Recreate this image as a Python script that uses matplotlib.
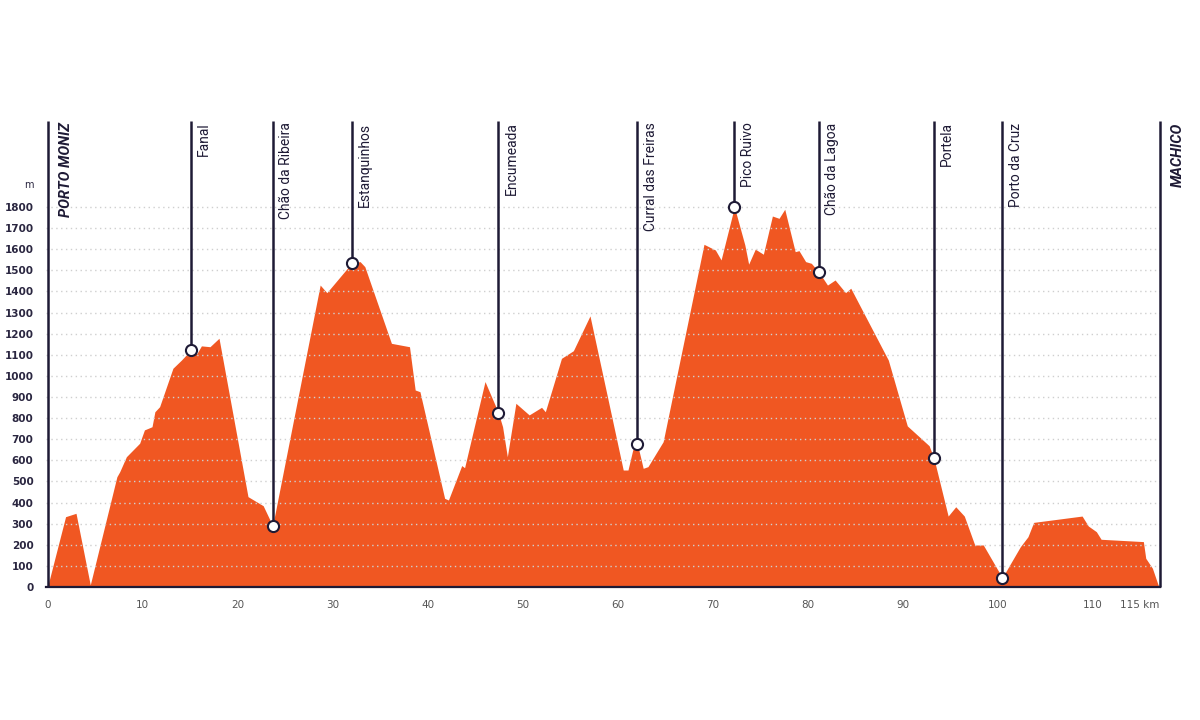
import matplotlib
matplotlib.use("Agg")
import matplotlib.pyplot as plt

# perfil de altitude (km, m)
km = [0.0, 1.9, 3.0, 4.5, 7.3, 7.6, 8.3, 9.7, 10.2, 11.0, 11.3, 11.8, 13.2, 14.1,
      15.1, 15.7, 16.2, 17.1, 18.05, 21.1, 22.7, 23.7, 28.7, 29.4, 32.0, 32.9,
      33.4, 36.2, 38.1, 38.7, 39.2, 41.8, 42.2, 43.6, 43.9, 46.05, 47.45, 47.9,
      48.4, 49.3, 50.7, 52.0, 52.4, 54.1, 55.35, 57.1, 60.6, 61.1, 61.6, 62.1,
      62.7, 63.2, 64.8, 69.1, 70.3, 70.9, 72.3, 73.4, 73.8, 74.5, 75.35, 76.3,
      77.0, 77.6, 78.7, 79.1, 79.8, 80.4, 81.2, 82.1, 82.9, 84.0, 84.55, 88.5,
      90.5, 92.8, 93.3, 94.8, 95.6, 96.5, 97.6, 98.5, 100.5, 102.4, 103.2, 103.8,
      108.9, 109.55, 110.4, 110.9, 115.35, 115.6, 116.3, 116.9, 117.1]
alt = [0, 333, 349, 10, 522, 546, 617, 681, 744, 759, 830, 854, 1036, 1075,
       1123, 1104, 1142, 1138, 1178, 428, 385, 290, 1430, 1394, 1533, 1541,
       1517, 1154, 1138, 933, 925, 420, 412, 575, 565, 973, 826, 759,
       617, 870, 815, 851, 830, 1083, 1119, 1284, 554, 554, 649, 676,
       562, 570, 688, 1623, 1596, 1549, 1800, 1620, 1529, 1600, 1576, 1757,
       1746, 1789, 1588, 1593, 1541, 1533, 1491, 1430, 1454, 1394, 1415, 1075,
       763, 669, 610, 336, 380, 336, 199, 199, 44, 191, 238, 306,
       336, 289, 262, 226, 215, 136, 89, 10, 0]

# pontos de passagem
locais = ["Fanal", "Chão da Ribeira", "Estanquinhos", "Encumeada", "Curral das Freiras",
          "Pico Ruivo", "Chão da Lagoa", "Portela", "Porto da Cruz"]
locais_km = [15.1, 23.7, 32.0, 47.45, 62.1, 72.3, 81.2, 93.3, 100.5]
locais_alt = [1123, 290, 1533, 826, 676, 1800, 1491, 610, 44]

partida = "PORTO MONIZ"
chegada = "MACHICO"
partida_km = 0.0
chegada_km = 117.1

yticks = list(range(0, 1900, 100))
xticks = [0, 10, 20, 30, 40, 50, 60, 70, 80, 90, 100, 110, 115]
xlabels = ["0", "10", "20", "30", "40", "50", "60", "70", "80", "90", "100", "110", "115 km"]

laranja = "#F05722"
escuro = "#1E1A35"
fonte_nome = ["Roboto", "DejaVu Sans"]

fig = plt.figure(figsize=(12, 7.2), dpi=100)
ax = fig.add_axes([46 / 1200, 1 - 587 / 720, 1114 / 1200, 466 / 720])
topo = 2207
ax.set_xlim(-0.16, chegada_km)
ax.set_ylim(0, topo)

ax.fill_between(km, alt, 0, color=laranja, lw=0, zorder=1)

# linhas de grelha pontilhadas
for y in yticks[1:]:
    ax.plot([-0.16, chegada_km], [y, y], color="#cfcfcf", lw=1,
            linestyle=(0, (1, 2.5)), zorder=2)

# partida e chegada
for x, nome in [(partida_km, partida), (chegada_km, chegada)]:
    ax.vlines(x, 0, topo, color=escuro, lw=1.8, zorder=4, clip_on=False)
    ax.annotate(nome, (x, topo), xytext=(8, -1), textcoords="offset points",
                rotation=90, ha="left", va="top", fontsize=10.5, fontweight="bold",
                fontstyle="italic", color=escuro, family=fonte_nome)

# pontos intermédios
for x, y, nome in zip(locais_km, locais_alt, locais):
    ax.vlines(x, y, topo, color=escuro, lw=1.8, zorder=4)
    ax.annotate(nome, (x, topo), xytext=(4.5, -1), textcoords="offset points",
                rotation=90, ha="left", va="top", fontsize=10,
                color=escuro, family=fonte_nome)
ax.plot(locais_km, locais_alt, "o", ms=8, mfc="white", mec=escuro, mew=1.5, zorder=5)

ax.set_yticks(yticks)
ax.set_yticklabels([str(v) for v in yticks], fontsize=7.5, fontweight="bold", color="#2a2640")
ax.set_xticks(xticks)
ax.set_xticklabels(xlabels, fontsize=7.5, color="#555555")
ax.tick_params(axis="both", length=0)
ax.tick_params(axis="y", pad=9)
ax.tick_params(axis="x", pad=9)
ax.text(-0.015, 1904, "m", transform=ax.get_yaxis_transform(), ha="center", va="center",
        fontsize=7, color="#2a2640")

for s in ["top", "right", "left"]:
    ax.spines[s].set_visible(False)
ax.spines["bottom"].set_color(escuro)
ax.spines["bottom"].set_linewidth(1.6)
ax.spines["bottom"].set_zorder(6)

fig.savefig("out.png", dpi=100, facecolor="white")
